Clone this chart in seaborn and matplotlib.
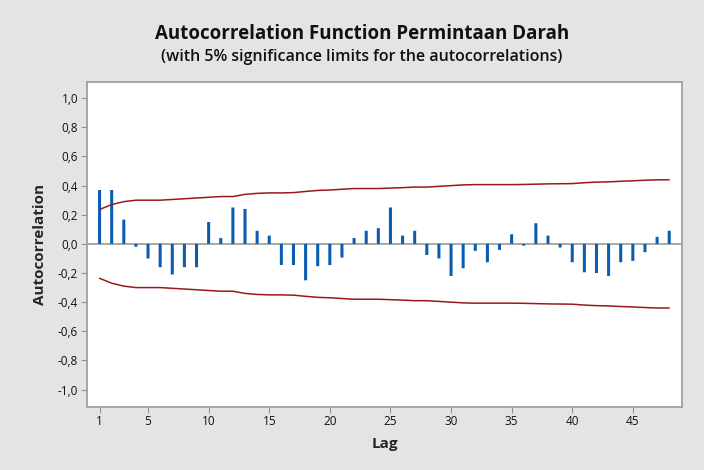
import numpy as np
import pandas as pd
import matplotlib
matplotlib.use("Agg")
import matplotlib.pyplot as plt
import seaborn as sns

# ACF values
lags = list(range(1, 49))
acf = [0.37, 0.37, 0.167, -0.02, -0.10, -0.16, -0.21, -0.16, -0.16, 0.15,
       0.04, 0.25, 0.24, 0.09, 0.057, -0.145, -0.145, -0.25, -0.153, -0.145,
       -0.094, 0.04, 0.09, 0.108, 0.25, 0.057, 0.09, -0.076, -0.10, -0.22,
       -0.167, -0.048, -0.126, -0.041, 0.066, -0.012, 0.142, 0.057, -0.025, -0.126,
       -0.195, -0.20, -0.22, -0.126, -0.117, -0.057, 0.048, 0.09]
# 5% significance limit (upper; lower is the mirror)
limit = [0.236, 0.27, 0.29, 0.30, 0.30, 0.30, 0.305, 0.31, 0.315, 0.32,
         0.325, 0.325, 0.34, 0.347, 0.35, 0.35, 0.352, 0.36, 0.367, 0.37,
         0.375, 0.38, 0.38, 0.38, 0.383, 0.386, 0.39, 0.39, 0.395, 0.40,
         0.405, 0.407, 0.407, 0.407, 0.407, 0.408, 0.41, 0.412, 0.413, 0.414,
         0.42, 0.424, 0.426, 0.43, 0.433, 0.437, 0.44, 0.44]
xticks = [1, 5, 10, 15, 20, 25, 30, 35, 40, 45]
yticks = [-1.0, -0.8, -0.6, -0.4, -0.2, 0.0, 0.2, 0.4, 0.6, 0.8, 1.0]

df = pd.DataFrame({"lag": lags, "acf": acf, "upper": limit,
                   "lower": [-v for v in limit]})

sns.set_style("white")
plt.rcParams['font.family'] = ['Open Sans', 'DejaVu Sans']

BG = "#e4e4e4"
fig = plt.figure(figsize=(7.04, 4.70), dpi=100, facecolor=BG)
ax = fig.add_axes([0.123, 0.134, 0.846, 0.692])
ax.set_facecolor("white")

ax.axhline(0, color="#a8a8a8", lw=1.4, zorder=1)
sns.barplot(data=df, x="lag", y="acf", native_scale=True, width=0.25,
            color="#0a5cb0", saturation=1, linewidth=0, ax=ax, zorder=2)
for p in ax.patches:
    p.set_snap(False)
sns.lineplot(data=df, x="lag", y="upper", color="#9a1a1a", lw=1.1, ax=ax, zorder=3)
sns.lineplot(data=df, x="lag", y="lower", color="#9a1a1a", lw=1.1, ax=ax, zorder=3)

ax.set_xlim(-0.07, 49.07)
ax.set_ylim(-1.12, 1.113)
ax.set_xticks(xticks)
ax.set_xticklabels([str(t) for t in xticks])
ax.set_yticks(yticks)
ax.set_yticklabels([f"{t:.1f}".replace(".", ",") for t in yticks])
ax.tick_params(axis="both", direction="out", length=4, width=0.8,
               color="#909090", labelsize=8.5, labelcolor="#111111", pad=2)
ax.tick_params(axis="x", bottom=True)
ax.tick_params(axis="y", left=True)
for s in ax.spines.values():
    s.set_color("#a0a0a0")
    s.set_linewidth(1.3)

ax.set_xlabel("Lag", fontsize=11, fontweight="bold", labelpad=6)
ax.set_ylabel("Autocorrelation", fontsize=11, fontweight="bold", labelpad=8)

fig.text(0.514, 0.928, "Autocorrelation Function Permintaan Darah",
         ha="center", va="center", fontsize=13.5, fontweight="bold", color="#111111")
fig.text(0.514, 0.878, "(with 5% significance limits for the autocorrelations)",
         ha="center", va="center", fontsize=11.5, fontweight=600, color="#111111")

fig.savefig("out.png", dpi=100, facecolor=BG)
